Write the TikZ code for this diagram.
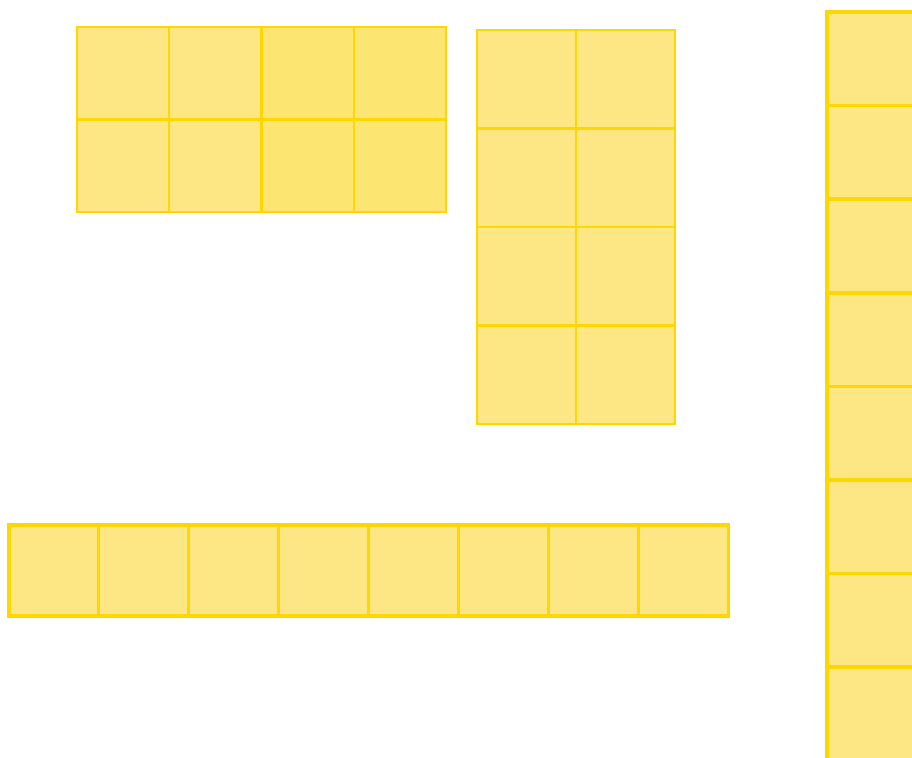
\documentclass[tikz,border=0pt]{standalone}
\usepackage{xcolor}
\usepackage{tikz}
\definecolor{pfill}{HTML}{FDE784}
\definecolor{pfilldk}{HTML}{FDE572}
\definecolor{pgold}{HTML}{FFD700}

\begin{document}
\begin{tikzpicture}[
    x=0.75pt,y=-0.75pt,
    cell/.style={fill=pfill,draw=pgold,line width=1.6pt},
    celldk/.style={fill=pfilldk,draw=pgold,line width=1.6pt},
    cellb/.style={fill=pfill,draw=pgold,line width=2.3pt},
    cellc/.style={fill=pfill,draw=pgold,line width=2.7pt}
  ]
    \useasboundingbox (0,0) rectangle (912,757);
    \clip (0,0) rectangle (912,757);

    % 4 x 2 block
    \foreach \i in {0,1} \foreach \j in {0,1}
      \draw[cell] ({77+\i*92.25},{27+\j*92.5}) rectangle ++(92.25,92.5);
    \foreach \i in {2,3} \foreach \j in {0,1}
      \draw[celldk] ({77+\i*92.25},{27+\j*92.5}) rectangle ++(92.25,92.5);

    % 2 x 4 block
    \foreach \i in {0,1} \foreach \j in {0,...,3}
      \draw[cell] ({477+\i*99},{30+\j*98.5}) rectangle ++(99,98.5);

    % 8 x 1 row
    \foreach \i in {0,...,7}
      \draw[cellb] ({9+\i*89.9},525) rectangle ++(89.9,91);

    % tall column (cut off)
    \foreach \j in {0,...,8}
      \draw[cellc] (827,{12+\j*93.6}) rectangle ++(93.6,93.6);

  \end{tikzpicture}
\end{document}
